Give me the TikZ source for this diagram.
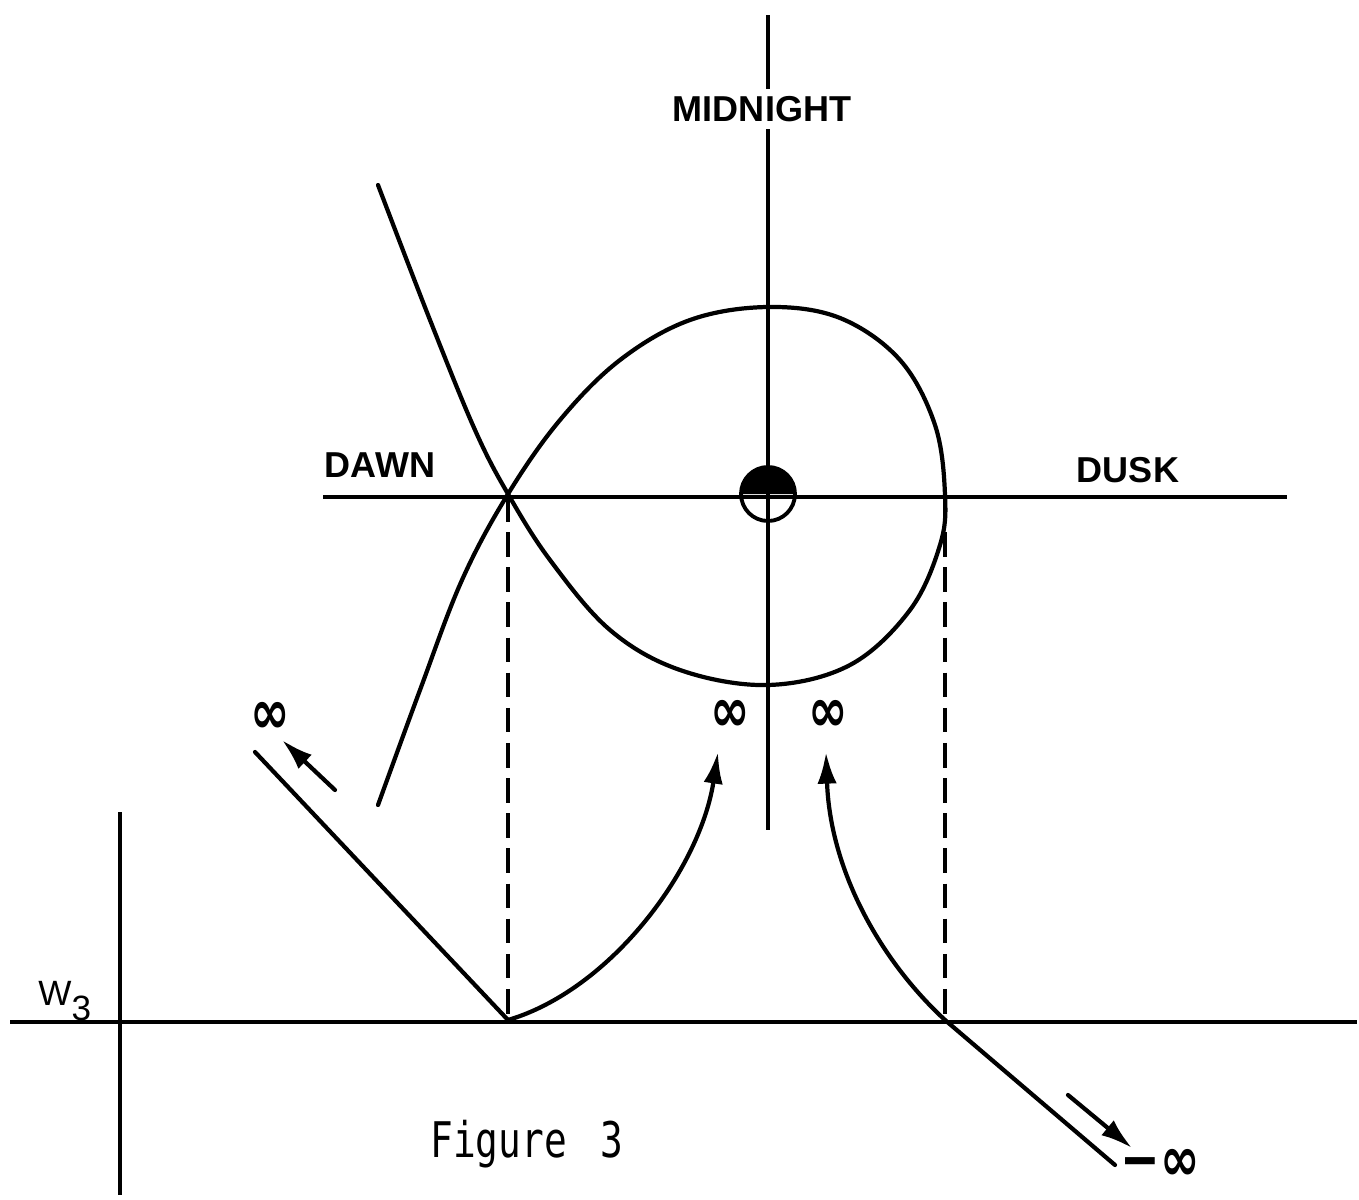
\documentclass[tikz,border=0pt]{standalone}
\usepackage{fontspec}
\setmainfont{Liberation Sans}
\newfontfamily\monof{DejaVu Sans Mono}
\newfontfamily\symf{DejaVu Sans}
\usetikzlibrary{arrows.meta,calc}
\begin{document}
\begin{tikzpicture}[x=0.02cm,y=-0.02cm,
  axis/.style={line width=1.8pt},
  curve/.style={line width=2.4pt, line cap=round, line join=round},
  dashline/.style={line width=1.8pt, dash pattern=on 14pt off 6pt},
  tip/.style={-{Latex[length=18pt,width=11pt]}},
  lbl/.style={font=\bfseries\fontsize{20.5}{24}\selectfont, inner sep=0pt},
  inf/.style={font=\symf\bfseries\fontsize{27}{28}\selectfont, inner sep=0pt}]
\useasboundingbox (0,0) rectangle (1359,1200);
% coordinates
\coordinate (vtop) at (768,15);
\coordinate (vbot) at (768,830);
\coordinate (hleft) at (323,497);
\coordinate (hright) at (1287,497);
\coordinate (sun) at (768,494);
\coordinate (dawnx) at (508,497);
\coordinate (duskx) at (945,497);
\coordinate (bl) at (10,1022);
\coordinate (br) at (1357,1022);
\coordinate (wtop) at (120,812);
\coordinate (wbot) at (120,1195);
\coordinate (P) at (508,1020);
\coordinate (Q) at (945,1020);
\coordinate (Lend) at (255,752);
\coordinate (Rend) at (1115,1165);
\coordinate (a1s) at (335,790);
\coordinate (a1e) at (282,740);
\coordinate (a2s) at (1068,1095);
\coordinate (a2e) at (1132,1148);
\coordinate (c1e) at (718,752);
\coordinate (c2e) at (826,752);
% axes
\draw[axis] (vtop) -- (vbot);
\draw[axis] (hleft) -- (hright);
\draw[axis] (bl) -- (br);
\draw[axis] (wtop) -- (wbot);
% labels
\node[lbl, fill=white, inner ysep=4pt] (midnight) at (762,109) {MIDNIGHT};
\node[lbl] (dawn) at (380,465) {DAWN};
\node[lbl] (dusk) at (1128,470) {DUSK};
\node[font=\fontsize{20}{24}\selectfont, inner sep=0pt, anchor=base west] (w3) at (38,1005) {W\raisebox{-9pt}{3}};
\node[font=\monof\fontsize{21.5}{26}\selectfont, inner sep=0pt, anchor=base west] (fig) at (430,1157) {\scalebox{1}[1.3]{Figure\hspace{0.9em}3}};
% sun symbol
\fill ($(sun)+(-0.54cm,0)$) arc[start angle=180,end angle=0,radius=0.54cm] -- cycle;
\draw[line width=2.2pt] (sun) circle[radius=0.54cm];
% main curve
\draw[curve] plot[smooth, tension=0.6] coordinates {(378,185) (430,320) (475,430) (508,494) (550,560) (610,630) (680,670) (768,685) (850,665) (910,610) (940,545) (945,495) (935,425) (900,360) (840,318) (768,307) (690,320) (620,360) (560,420) (508,494) (462,580) (420,690) (378,805)};
% dashed verticals
\draw[dashline] (dawnx) -- (P);
\draw[dashline] (duskx) -- (Q);
% lower lines
\draw[curve] (P) -- (Lend);
\draw[curve] (Q) -- (Rend);
\draw[curve, tip] (P) .. controls (610,990) and (700,870) .. (c1e);
\draw[curve, tip] (Q) .. controls (880,960) and (830,870) .. (c2e);
\draw[curve, tip] (a1s) -- (a1e);
\draw[curve, tip] (a2s) -- (a2e);
% infinity labels
\node[inf] (i1) at (270,718) {\scalebox{1}[1.3]{∞}};
\node[inf] (i2) at (730,716) {\scalebox{1}[1.3]{∞}};
\node[inf] (i3) at (828,716) {\scalebox{1}[1.3]{∞}};
\node[inf] (i4) at (1160,1165) {\scalebox{1}[1.3]{−∞}};
\end{tikzpicture}
\end{document}
